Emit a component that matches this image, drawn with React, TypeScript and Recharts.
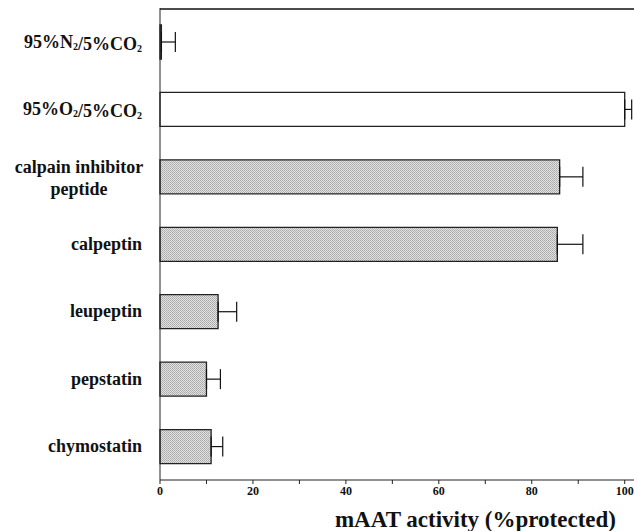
import { BarChart, Bar, XAxis, YAxis, ErrorBar, Cell, usePlotArea } from 'recharts';

const categories = [
  '95%N₂/5%CO₂',
  '95%O₂/5%CO₂',
  'calpain inhibitor\npeptide',
  'calpeptin',
  'leupeptin',
  'pepstatin',
  'chymostatin',
];
const activity = [0.3, 100, 86, 85.5, 12.5, 10, 11];
const errorPlus = [3, 1.5, 5, 5.5, 4, 3, 2.5];
const xTicks = [0, 10, 20, 30, 40, 50, 60, 70, 80, 90, 100];

const data = categories.map((name, i) => ({
  name,
  value: activity[i],
  err: [0, errorPlus[i]],
}));

const FONT = '"Liberation Serif", "Times New Roman", serif';
const OPEN_BAR = 1;

// splits on subscript 2 so it can be drawn smaller and lower
function LabelLine({ text, x, y, anchor }: { text: string; x: number; y: number; anchor: string }) {
  const parts = text.split('₂');
  return (
    <text x={x} y={y} textAnchor={anchor} fontFamily={FONT} fontWeight="bold" fontSize={18} fill="#111">
      {parts.map((p, i) => (
        <tspan key={i}>
          {p}
          {i < parts.length - 1 && (
            <tspan fontSize={10} dy={2}>
              2
            </tspan>
          )}
          {i < parts.length - 1 && <tspan dy={-2}>{''}</tspan>}
        </tspan>
      ))}
    </text>
  );
}

function CategoryTick(props: any) {
  const { x, y, payload } = props;
  const lines = String(payload.value).split('\n');
  if (lines.length === 1) {
    return <LabelLine text={lines[0]} x={x - 10} y={y + 6} anchor="end" />;
  }
  return (
    <g>
      {lines.map((l, i) => (
        <LabelLine key={i} text={l} x={79} y={y - 4 + i * 22} anchor="middle" />
      ))}
    </g>
  );
}

// top frame line along the plot area
function TopFrame() {
  const area = usePlotArea();
  if (!area) return null;
  const y = area.y + 1;
  return <line x1={area.x} x2={area.x + area.width} y1={y} y2={y} stroke="#111" strokeWidth={1.6} />;
}

export default function App() {
  return (
    <div style={{ position: 'absolute', left: 0, top: 0, width: 634, height: 531, background: '#fff', overflow: 'hidden' }}>
      <BarChart
        width={634}
        height={531}
        data={data}
        layout="vertical"
        margin={{ top: 8, right: 0, left: 0, bottom: 0 }}
        barSize={34}
      >
        <defs>
          <pattern id="stipple" width="2" height="2" patternUnits="userSpaceOnUse">
            <rect width="2" height="2" fill="#e2e2e2" />
            <rect width="1" height="1" fill="#a8a8a8" />
            <rect x="1" y="1" width="1" height="1" fill="#b4b4b4" />
          </pattern>
        </defs>
        <XAxis
          type="number"
          domain={[0, 102]}
          ticks={xTicks}
          tickFormatter={(v: number) => (v % 20 === 0 ? String(v) : '')}
          tick={{ fontFamily: FONT, fontWeight: 'bold', fontSize: 12, fill: '#111' }}
          stroke="#222"
          tickSize={4}
          height={51}
          label={{
            value: 'mAAT activity (%protected)',
            position: 'insideBottomRight',
            offset: 4,
            dx: -14,
            style: { fontFamily: FONT, fontWeight: 'bold', fontSize: 23, fill: '#111' },
          }}
        />
        <YAxis
          type="category"
          dataKey="name"
          width={160}
          tickLine={false}
          stroke="#222"
          tick={<CategoryTick />}
          interval={0}
        />
        <Bar dataKey="value" stroke="#222" strokeWidth={1.3} isAnimationActive={false}>
          {data.map((d, i) => (
            <Cell key={d.name} fill={i === OPEN_BAR ? '#fff' : 'url(#stipple)'} />
          ))}
          <ErrorBar dataKey="err" direction="x" width={10} stroke="#111" strokeWidth={1.2} />
        </Bar>
        <TopFrame />
      </BarChart>
    </div>
  );
}
